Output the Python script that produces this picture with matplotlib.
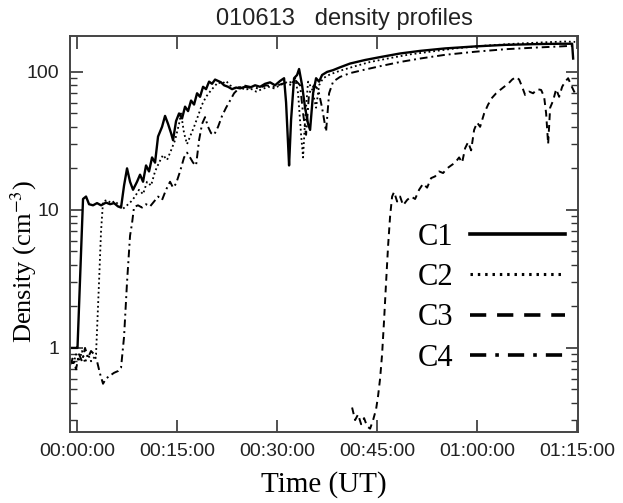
import numpy as np
import matplotlib
matplotlib.use("Agg")
import matplotlib.pyplot as plt
from matplotlib.lines import Line2D
from matplotlib.ticker import FixedLocator, FuncFormatter, LogLocator, NullFormatter

plt.rcParams['mathtext.fontset'] = 'stix'

# time in minutes after 00:00:00 UT, density in cm^-3
t_c1 = [-1.05, -0.15, 0.07, 0.9, 1.35, 1.8, 2.4, 3.0, 3.6, 4.35, 4.95, 5.55, 6.15, 6.6,
        7.05, 7.5, 7.95, 8.4, 9.0, 9.45, 9.9, 10.35, 10.8, 11.25, 11.7, 12.15, 12.75,
        13.2, 13.65, 14.1, 14.4, 14.85, 15.3, 15.75, 16.2, 16.65, 17.1, 17.55, 18.0,
        18.45, 18.9, 19.35, 19.8, 20.25, 20.7, 21.15, 21.6, 22.05, 22.65, 23.25, 23.85,
        24.45, 25.2, 25.95, 26.7, 27.45, 28.2, 28.95, 29.7, 30.45, 31.05, 31.35, 31.65,
        31.8, 32.1, 32.55, 33.0, 33.3, 33.75, 34.2, 34.65, 34.95, 35.4, 35.85, 36.3,
        36.75, 37.5, 38.4, 39.45, 40.95, 43.2, 45.45, 48.45, 51.45, 55.2, 59.7, 64.2,
        68.7, 72.45, 74.25, 74.4]
n_c1 = [1.0, 1.0, 1.0, 12, 12.5, 11, 10.8, 11.2, 10.8, 11.3, 11.0, 11.2, 10.6, 10.4,
        15, 20, 16, 14, 16, 18, 16, 21, 19, 24, 22, 34, 40,
        48, 42, 36, 32, 44, 50, 46, 56, 52, 62, 58, 70,
        66, 78, 75, 85, 82, 88, 86, 84, 80, 78, 75, 77,
        76, 78, 77, 80, 78, 82, 84, 80, 86, 90, 60, 30,
        21, 45, 90, 95, 105, 80, 55, 42, 38, 70, 90, 85,
        95, 100, 103, 108, 115, 122, 128, 136, 142, 148, 153, 157,
        159, 160, 160, 125]

t_c2 = [-1.05, -0.6, -0.15, 0.3, 0.75, 1.2, 1.65, 2.1, 2.55, 2.85, 3.3, 3.6, 3.9, 4.5,
        5.1, 5.7, 6.3, 6.9, 7.5, 8.1, 8.7, 9.3, 9.9, 10.5, 11.1, 11.7, 12.3, 12.9, 13.5,
        14.1, 14.7, 15.3, 15.6, 16.05, 16.5, 16.95, 17.55, 18.15, 18.75, 19.35, 19.95,
        20.55, 21.15, 21.75, 22.35, 22.95, 23.7, 24.45, 25.2, 25.95, 26.85, 27.75, 28.65,
        29.55, 30.45, 31.35, 32.1, 32.7, 33.15, 33.6, 33.9, 34.2, 34.65, 35.25, 35.85,
        36.3, 36.9, 37.95, 39.45, 41.7, 43.95, 46.95, 49.95, 52.95, 56.7, 61.2, 65.7,
        70.2, 73.2, 74.7]
n_c2 = [0.85, 0.75, 0.9, 0.8, 0.95, 0.78, 0.9, 0.8, 0.85, 0.9, 3.0, 7.0, 11.5, 11.8,
        11.2, 11.6, 10.8, 10.2, 10.8, 11.5, 12.5, 14, 13, 16, 15, 19, 22, 25, 23,
        27, 32, 42, 50, 36, 30, 34, 40, 48, 58, 66, 72,
        78, 84, 82, 86, 80, 76, 78, 74, 76, 72, 75, 78,
        76, 80, 84, 80, 90, 70, 35, 24, 45, 85, 75, 55,
        80, 90, 96, 102, 110, 118, 126, 134, 140, 148, 155, 160,
        164, 166, 165]

t_c3 = [41.25, 41.7, 42.15, 42.6, 43.05, 43.5, 43.95, 44.4, 44.85, 45.15, 45.45, 45.75,
        46.05, 46.35, 46.65, 46.95, 47.25, 47.55, 48.0, 48.45, 48.9, 49.5, 50.1, 50.7,
        51.3, 51.9, 52.5, 53.1, 53.7, 54.3, 54.9, 55.5, 56.1, 56.7, 57.3, 57.75, 58.2,
        58.65, 59.1, 59.55, 60.0, 60.45, 61.05, 61.65, 62.25, 62.85, 63.45, 64.05, 64.65,
        65.25, 65.85, 66.3, 66.75, 67.2, 67.8, 68.4, 69.0, 69.6, 70.05, 70.35, 70.65,
        70.95, 71.4, 71.85, 72.3, 72.75, 73.2, 73.65, 74.1, 74.55, 74.85]
n_c3 = [0.37, 0.3, 0.33, 0.28, 0.31, 0.27, 0.26, 0.3, 0.36, 0.45, 0.6, 0.9,
        1.6, 3.0, 5.5, 9, 12.5, 13.5, 11.5, 12.5, 10.8, 11.8, 12.5, 12,
        14, 15.5, 14.5, 17, 17.5, 19, 18.5, 20, 21, 22, 24, 22, 28,
        31, 27, 38, 43, 40, 50, 58, 65, 70, 74, 78, 82,
        88, 92, 88, 78, 68, 72, 70, 75, 74, 66, 50, 30,
        55, 62, 75, 66, 78, 85, 90, 80, 72, 68]

t_c4 = [-1.05, -0.6, -0.15, 0.3, 0.75, 1.2, 1.65, 2.1, 2.55, 3.0, 3.45, 3.9, 4.35, 4.95,
        5.55, 6.15, 6.6, 7.05, 7.5, 7.95, 8.25, 8.55, 9.15, 9.75, 10.35, 10.95, 11.55,
        12.15, 12.75, 13.35, 13.95, 14.4, 14.85, 15.45, 16.05, 16.5, 16.95, 17.4, 17.85,
        18.3, 18.75, 19.2, 19.65, 20.1, 20.55, 21.15, 21.75, 22.35, 22.95, 23.55, 24.15,
        24.9, 25.95, 27.15, 28.35, 29.55, 30.75, 31.95, 32.85, 33.45, 33.9, 34.35, 34.8,
        35.55, 36.15, 36.75, 37.35, 37.8, 38.4, 39.45, 40.95, 43.2, 45.45, 48.45, 51.45,
        55.2, 59.7, 64.2, 68.7, 72.45, 74.7]
n_c4 = [0.75, 0.85, 0.7, 0.9, 0.8, 1.0, 0.85, 0.95, 0.9, 0.8, 0.65, 0.55, 0.6, 0.63,
        0.66, 0.68, 0.72, 1.2, 3.0, 6.5, 8.0, 10.5, 10.8, 10.4, 11, 10.6, 11.5,
        12.5, 11.8, 14, 16, 14.5, 15.5, 19, 24, 26, 24, 22, 21,
        32, 42, 47, 40, 36, 35, 40, 48, 55, 62, 70, 75,
        80, 78, 76, 80, 78, 82, 84, 86, 80, 50, 35, 70,
        80, 75, 55, 37, 70, 85, 92, 98, 104, 110, 118, 125,
        133, 140, 146, 150, 153, 155]

labels = ['C1', 'C2', 'C3', 'C4']
xticks = [0, 15, 30, 45, 60, 75]


def hms(m, pos=None):
    s = int(round(m * 60))
    return '%02d:%02d:%02d' % (s // 3600, (s // 60) % 60, s % 60)


fig = plt.figure(figsize=(6.23, 5.03), dpi=100)
ax = fig.add_axes([0.1124, 0.1412, 0.8156, 0.7872])

ax.plot(t_c1, n_c1, color='black', lw=1.7, ls='-')
ax.plot(t_c2, n_c2, color='black', lw=1.3, ls=(0, (1, 1.6)))
ax.plot(t_c3, n_c3, color='black', lw=1.4, ls=(0, (3.5, 2.5)))
ax.plot(t_c4, n_c4, color='black', lw=1.4, ls=(0, (4, 2, 1, 2)))

ax.set_yscale('log')
ax.set_xlim(-1.05, 75.15)
ax.set_ylim(0.246, 182)

ax.xaxis.set_major_locator(FixedLocator(xticks))
ax.xaxis.set_major_formatter(FuncFormatter(hms))
ax.yaxis.set_major_locator(LogLocator(base=10))
ax.yaxis.set_minor_locator(LogLocator(base=10, subs=np.arange(2, 10)))
ax.yaxis.set_minor_formatter(NullFormatter())
ax.yaxis.set_major_formatter(FuncFormatter(lambda v, p: '%g' % v))

for lab in ax.get_xticklabels() + ax.get_yticklabels():
    lab.set_fontfamily('Liberation Sans')
    lab.set_fontsize(14)
    lab.set_color('#222222')

ax.tick_params(which='both', direction='in', top=True, right=True, color='#333333')
ax.tick_params(which='major', length=9, width=1.2, pad=8)
ax.tick_params(which='minor', length=5, width=1.0)
for sp in ax.spines.values():
    sp.set_linewidth(1.4)
    sp.set_color('#444444')

ax.set_title('010613   density profiles', fontfamily='Liberation Sans', fontsize=17,
             color='#222222', x=0.54, pad=8)
ax.set_xlabel('Time (UT)', fontfamily='Liberation Serif', fontsize=21, labelpad=8)
ax.set_ylabel('Density (cm$^{-3}$)', fontfamily='Liberation Serif', fontsize=19)
ax.yaxis.set_label_coords(-0.062, 0.43)

handles = [
    Line2D([], [], color='black', lw=2.6, ls='-'),
    Line2D([], [], color='black', lw=2.2, ls=(0, (0.8, 1.6))),
    Line2D([], [], color='black', lw=2.6, ls=(0, (4.5, 3))),
    Line2D([], [], color='black', lw=2.6, ls=(0, (4.5, 2.5, 1, 2.5))),
]
leg = ax.legend(handles, labels, loc='lower right', bbox_to_anchor=(1.028, 0.08),
                frameon=False, markerfirst=False, handlelength=3.1, handletextpad=0.55,
                labelspacing=0.37, prop={'family': 'Liberation Serif', 'size': 22})

fig.savefig('out.png', dpi=100, facecolor='white')
